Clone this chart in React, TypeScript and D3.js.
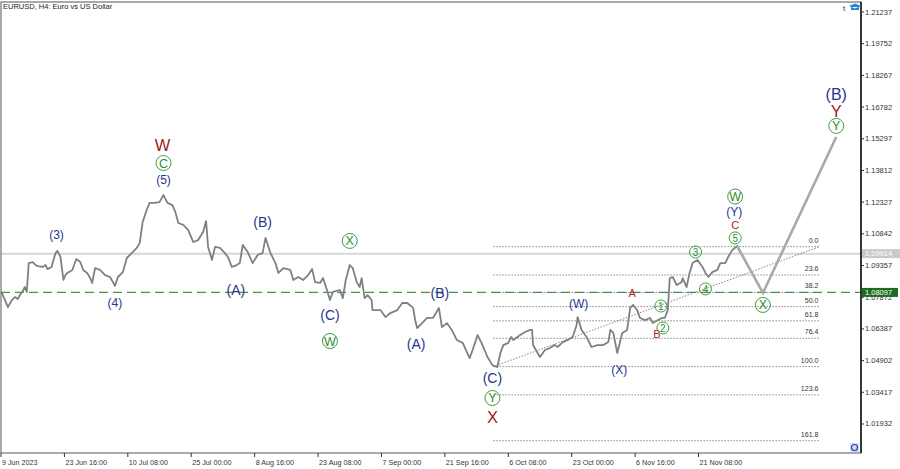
import * as d3 from 'd3'

const W = 900
const H = 469

// H4 close line: [bar index from 9 Jun 2023, price]
const closes: [number, number][] = [
  [1, 1.0807], [4, 1.0774], [7, 1.0741], [11, 1.0774], [14, 1.0788], [17, 1.0779], [19, 1.0797],
  [22, 1.0816], [24, 1.0835], [26, 1.0812], [28, 1.0947], [32, 1.0952], [35, 1.0938], [37, 1.0933],
  [42, 1.0929], [45, 1.0938], [47, 1.0919], [51, 1.0929], [55, 1.0994], [57, 1.1004], [60, 1.0976],
  [63, 1.0868], [65, 1.0891], [67, 1.0901], [72, 1.0915], [76, 1.0966], [80, 1.0952], [83, 1.0915],
  [87, 1.0901], [90, 1.0877], [92, 1.0854], [95, 1.0924], [100, 1.0915], [105, 1.0891], [110, 1.0882],
  [113, 1.0858], [115, 1.084], [118, 1.0882], [123, 1.0905], [127, 1.0971], [132, 1.0994], [137, 1.1018],
  [140, 1.1041], [143, 1.114], [147, 1.1196], [150, 1.1229], [155, 1.1229], [160, 1.1233], [164, 1.1266],
  [168, 1.1229], [173, 1.1219], [176, 1.1186], [179, 1.1135], [184, 1.1126], [189, 1.1102], [194, 1.1046],
  [199, 1.1055], [204, 1.1093], [207, 1.1144], [209, 1.1023], [213, 1.0962], [216, 1.1023], [221, 1.1018],
  [226, 1.0994], [229, 1.0976], [233, 1.0929], [238, 1.0938], [241, 1.0947], [244, 1.1032], [249, 1.0999],
  [254, 1.0947], [259, 1.0985], [264, 1.0994], [267, 1.1065], [272, 1.0994], [277, 1.0947], [280, 1.0901],
  [285, 1.0924], [292, 1.0915], [295, 1.0868], [300, 1.0882], [305, 1.0868], [310, 1.0891], [314, 1.0919],
  [317, 1.0858], [322, 1.0854], [325, 1.0877], [329, 1.0821], [332, 1.0774], [335, 1.0812], [342, 1.0821],
  [345, 1.0783], [348, 1.0868], [352, 1.0938], [355, 1.0924], [359, 1.0858], [362, 1.0835], [364, 1.0877],
  [367, 1.0783], [370, 1.0797], [374, 1.0774], [375, 1.0727], [383, 1.0727], [388, 1.0694], [393, 1.0713],
  [400, 1.0727], [405, 1.076], [410, 1.076], [416, 1.0737], [418, 1.068], [420, 1.0643], [425, 1.0666],
  [430, 1.069], [436, 1.069], [442, 1.0737], [445, 1.0647], [450, 1.0666], [455, 1.0634], [460, 1.0587],
  [466, 1.0573], [473, 1.0502], [476, 1.054], [481, 1.061], [485, 1.0573], [491, 1.0507], [496, 1.0469],
  [501, 1.046], [504, 1.0526], [507, 1.0563], [512, 1.0573], [515, 1.0601], [517, 1.0587], [524, 1.061],
  [529, 1.0624], [534, 1.0634], [536, 1.0634], [537, 1.0563], [544, 1.0507], [549, 1.054], [554, 1.0549],
  [559, 1.0563], [562, 1.0554], [567, 1.0577], [572, 1.0587], [577, 1.0601], [581, 1.0657], [582, 1.0694],
  [586, 1.0634], [591, 1.0601], [596, 1.0554], [602, 1.0563], [608, 1.0563], [613, 1.0577], [615, 1.0634],
  [618, 1.062], [622, 1.0526], [627, 1.062], [632, 1.0634], [635, 1.0737], [638, 1.0751], [642, 1.0727],
  [645, 1.069], [650, 1.068], [655, 1.069], [658, 1.0666], [663, 1.068], [667, 1.069], [670, 1.069],
  [673, 1.0727], [675, 1.0877], [678, 1.0882], [682, 1.0844], [687, 1.0858], [688, 1.0877], [692, 1.0835],
  [695, 1.0901], [698, 1.0947], [703, 1.0962], [708, 1.0929], [711, 1.0901], [714, 1.0882], [718, 1.0905],
  [723, 1.0915], [726, 1.0947], [731, 1.0947], [734, 1.0976], [738, 1.1008], [743, 1.1027], [747, 1.0991],
]

// expected path drawn by the analyst
const forecast: [number, number][] = [[743, 1.1027], [769, 1.0807], [843, 1.1538]]

const dateLabels = [
  '9 Jun 2023', '23 Jun 16:00', '10 Jul 08:00', '25 Jul 00:00', '8 Aug 16:00', '23 Aug 08:00',
  '7 Sep 00:00', '21 Sep 16:00', '6 Oct 08:00', '23 Oct 00:00', '6 Nov 16:00', '21 Nov 08:00',
]
const barsPerDateLabel = 64

const priceTicks = [
  1.21237, 1.19752, 1.18267, 1.16782, 1.15297, 1.13812, 1.12327,
  1.10842, 1.09357, 1.07872, 1.06387, 1.04902, 1.03417, 1.01932,
]
const lastPrice = 1.09914
const levelPrice = 1.08097

// fibonacci grid
const fibLevels = [0, 23.6, 38.2, 50, 61.8, 76.4, 100, 123.6, 161.8]
const fibHigh = 1.1024
const fibLow = 1.0462
const fibBars: [number, number] = [497, 827]
const trendLine: [number, number][] = [[497, 1.0462], [825, 1.1022]]

// wave marks: bar, price, text, style
const waveLabels: [number, number, string, string][] = [
  [56, 1.1079, '(3)', 'navy'],
  [115, 1.076, '(4)', 'navy'],
  [164, 1.1336, '(5)', 'navy'],
  [164, 1.1416, 'C', 'circBig'],
  [163, 1.15, 'W', 'redBig'],
  [264, 1.114, '(B)', 'navyL'],
  [237, 1.0821, '(A)', 'navyL'],
  [352, 1.1051, 'X', 'circBig'],
  [332, 1.0704, '(C)', 'navyL'],
  [332, 1.0582, 'W', 'circBig'],
  [443, 1.0807, '(B)', 'navyL'],
  [419, 1.0568, '(A)', 'navyL'],
  [496, 1.0409, '(C)', 'navyL'],
  [496, 1.0315, 'Y', 'circBig'],
  [496, 1.0226, 'X', 'redBig'],
  [583, 1.0755, '(W)', 'navy'],
  [624, 1.0446, '(X)', 'navy'],
  [637, 1.0807, 'A', 'red'],
  [662, 1.0615, 'B', 'red'],
  [666, 1.0746, '1', 'circ'],
  [668, 1.0643, '2', 'circ'],
  [701, 1.0999, '3', 'circ'],
  [711, 1.0826, '4', 'circ'],
  [741, 1.1065, '5', 'circ'],
  [741, 1.1127, 'C', 'red'],
  [740, 1.1187, '(Y)', 'navy'],
  [741, 1.1259, 'W', 'circBig'],
  [769, 1.0751, 'X', 'circBig'],
  [843, 1.1735, '(B)', 'navyXL'],
  [843, 1.166, 'Y', 'redBig'],
  [843, 1.159, 'Y', 'circBig'],
]

const styles: Record<string, { fill: string; size: number; r?: number }> = {
  navy: { fill: '#27358f', size: 12 },
  navyL: { fill: '#27358f', size: 14 },
  navyXL: { fill: '#27358f', size: 16 },
  red: { fill: '#b02424', size: 11 },
  redBig: { fill: '#9e1c1c', size: 16.5 },
  circ: { fill: '#2e8f2e', size: 10, r: 6 },
  circBig: { fill: '#2e8f2e', size: 12.5, r: 7.5 },
}

const FONT = '"Liberation Sans", Arial, sans-serif'

export default function App() {
  const left = 1
  const right = 861
  const top = 2
  const bottom = 453

  const x = d3.scaleLinear().domain([0, 868]).range([left, right])
  const y = d3.scaleLinear().domain([1.00572, 1.21706]).range([bottom, top])

  const line = d3.line<[number, number]>().x(d => x(d[0])).y(d => y(d[1]))

  return (
    <div style={{ position: 'absolute', left: 0, top: 0 }}>
      <svg width={W} height={H} style={{ display: 'block', background: '#fff' }} fontFamily={FONT}>
        <text x={3} y={6} fontSize={7.5} fill="#222" dominantBaseline="central">
          EURUSD, H4:  Euro vs US Dollar
        </text>

        {/* current bid line */}
        <line x1={left} x2={right} y1={y(lastPrice)} y2={y(lastPrice)} stroke="#d6d6d6" strokeWidth={2} />
        {/* support level */}
        <line x1={left} x2={right} y1={y(levelPrice)} y2={y(levelPrice)} stroke="#3c9c3c" strokeWidth={1.2} strokeDasharray="9,5" />

        {/* fib grid */}
        {fibLevels.map(l => {
          const p = fibHigh - ((fibHigh - fibLow) * l) / 100
          return (
            <g key={l}>
              <line x1={x(fibBars[0])} x2={x(fibBars[1])} y1={y(p)} y2={y(p)} stroke="#6a6a6a" strokeWidth={0.8} strokeDasharray="1.5,1.5" />
              <text x={x(fibBars[1]) - 2} y={y(p) - 4} fontSize={7} fill="#333" textAnchor="end">
                {l.toFixed(1)}
              </text>
            </g>
          )
        })}
        <path d={line(trendLine) ?? ''} stroke="#6a6a6a" strokeWidth={0.8} strokeDasharray="1.5,1.5" fill="none" />

        <path d={line(closes) ?? ''} stroke="#808080" strokeWidth={1.8} fill="none" strokeLinejoin="round" />
        <path d={line(forecast) ?? ''} stroke="#a9a9a9" strokeWidth={2.6} fill="none" />

        {waveLabels.map(([b, p, t, s], i) => {
          const st = styles[s]
          return (
            <g key={i} transform={`translate(${x(b)},${y(p)})`}>
              {st.r && <circle r={st.r} fill="none" stroke="#3aa03a" strokeWidth={1} />}
              <text fontSize={st.size} fill={st.fill} textAnchor="middle" dominantBaseline="central" dy={st.r ? 0.5 : 0}>
                {t}
              </text>
            </g>
          )
        })}

        {/* frame */}
        <rect x={left} y={top} width={right - left} height={bottom - top} fill="none" stroke="#555" strokeWidth={1} />
        <line x1={right} x2={right} y1={top} y2={bottom} stroke="#111" strokeWidth={1.5} />

        {/* price axis */}
        {priceTicks.map(v => (
          <g key={v}>
            <line x1={right} x2={right + 3} y1={y(v)} y2={y(v)} stroke="#333" />
            <text x={right + 4} y={y(v)} fontSize={7.5} fill="#333" dominantBaseline="central">
              {v.toFixed(5)}
            </text>
          </g>
        ))}
        <rect x={right + 1} y={y(lastPrice) - 4.5} width={38} height={9} fill="#c9c9c9" />
        <text x={right + 4} y={y(lastPrice)} fontSize={7.5} fill="#fff" dominantBaseline="central">
          {lastPrice.toFixed(5)}
        </text>
        <rect x={right + 1} y={y(levelPrice) - 4.5} width={36} height={9} fill="#1f6b1f" />
        <text x={right + 4} y={y(levelPrice)} fontSize={7.5} fill="#fff" dominantBaseline="central">
          {levelPrice.toFixed(5)}
        </text>

        {/* time axis */}
        {dateLabels.map((d, i) => {
          const xx = x(i * barsPerDateLabel)
          return (
            <g key={d}>
              <line x1={xx} x2={xx} y1={bottom} y2={bottom + 4} stroke="#333" />
              <text x={xx + 1} y={462.5} fontSize={7.2} fill="#333" dominantBaseline="central">
                {d}
              </text>
            </g>
          )
        })}

        {/* toolbar icons */}
        <text x={843} y={11} fontSize={8} fill="#333">t</text>
        <path d="M849 6 L855 3.5 L861 6 L855 8.5 Z M851 7 L851 10 L859 10 L859 7" fill="#2f7fd0" />
        <rect x={850} y={443} width={9} height={9} fill="#cfdcf2" />
        <circle cx={854.5} cy={447.5} r={3} fill="none" stroke="#2a3fd0" strokeWidth={1.2} />
      </svg>
    </div>
  )
}
